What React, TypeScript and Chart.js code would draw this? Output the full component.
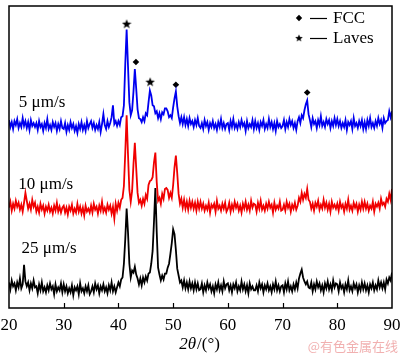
import React, { useEffect, useRef } from "react";
import { Chart, registerables } from "chart.js";
Chart.register(...registerables);

// 2θ sampling: start angle and step (degrees)
const startAngle = 20;
const stepAngle = 0.25;

// Intensity values (arbitrary units, offset per pattern), one per 0.25° from 20° to 90°
const blue5 = [
  191,184,189,182,190,186,192,183,188,184,193,185,190,183,189,181,191,185,188,184,
  188,181,190,184,187,180,188,183,192,182,186,181,189,184,188,180,187,182,190,183,
  182,188,179,186,181,189,183,187,180,185,178,187,182,189,181,186,180,190,183,187,
  190,183,188,181,186,182,189,179,187,197,186,182,190,184,188,194,206,187,190,185,
  190,186,194,195,206,248,283,246,209,196,201,220,243,223,202,193,192,189,194,190,
  198,196,209,221,216,206,205,198,200,193,198,192,199,197,203,203,200,194,196,193,
  204,213,220,205,195,188,194,187,194,186,192,185,193,187,190,184,191,186,193,185,
  183,188,182,191,185,189,181,188,184,190,183,187,181,189,184,192,183,188,182,187,
  188,181,190,184,192,183,187,182,189,184,191,185,188,180,190,183,187,184,191,182,
  190,183,188,181,189,185,191,182,187,183,192,184,189,182,188,180,190,184,187,183,
  185,191,182,189,184,192,186,190,183,188,181,190,194,188,196,193,201,207,211,197,
  191,184,193,187,190,183,191,186,195,185,189,184,192,187,191,183,190,185,193,186,
  192,185,190,183,188,184,191,181,189,186,190,182,193,185,188,183,190,185,191,182,
  189,182,191,185,193,184,188,183,190,185,193,187,191,183,193,188,190,191,200,194,
  200,
];

const red10 = [
  102,108,99,106,101,109,103,107,100,105,98,107,117,109,101,106,100,110,103,107,
  98,103,97,106,100,104,96,103,99,105,98,102,96,104,99,107,98,103,97,102,
  104,97,102,95,103,99,105,96,101,97,106,98,103,96,102,94,104,98,101,97,
  104,97,106,100,103,96,104,99,108,98,102,97,105,100,104,96,103,91,106,99,
  107,102,110,112,124,158,196,156,120,108,119,146,168,142,117,107,110,104,111,106,
  115,111,125,129,130,133,148,158,128,109,112,106,116,111,121,122,120,112,117,112,
  125,143,155,137,116,106,111,102,110,101,108,100,109,102,108,101,107,99,108,101,
  108,101,106,99,104,100,107,97,105,102,106,98,109,101,104,99,106,101,107,98,
  101,107,98,105,100,108,102,106,99,104,97,106,101,108,100,105,99,109,102,106,
  105,98,107,101,109,100,104,99,106,101,108,102,105,97,107,100,104,101,108,99,
  100,105,99,108,102,106,98,105,101,107,100,104,112,108,117,110,116,112,121,110,
  108,101,106,99,107,103,109,100,105,101,110,102,107,100,106,98,108,102,105,101,
  106,99,108,102,105,98,106,101,110,100,104,99,107,102,106,98,105,100,108,101,
  108,101,106,99,104,101,108,98,106,103,107,101,111,105,107,103,111,108,116,110,
  121,
];

const black25 = [
  26,19,28,22,25,18,26,21,30,20,24,44,27,22,26,18,25,20,28,21,
  22,15,24,18,26,17,21,16,23,18,25,19,22,14,24,17,21,18,25,16,
  24,17,22,15,20,16,23,13,21,18,22,14,25,17,20,15,22,17,23,14,
  17,22,16,25,19,23,15,22,18,24,17,21,15,23,18,26,17,22,16,21,
  26,22,29,31,45,70,101,77,45,31,38,36,42,34,30,24,30,23,31,26,
  32,28,35,36,45,58,88,122,77,41,34,28,33,29,35,35,41,45,55,66,
  80,75,59,40,33,26,28,21,28,20,26,19,27,20,25,18,26,19,25,18,
  19,25,16,23,18,26,20,24,17,22,15,24,19,26,18,23,17,27,20,24,
  25,18,23,16,24,20,26,17,22,18,27,19,24,17,23,15,25,19,22,18,
  18,23,17,26,20,24,16,23,19,25,18,22,16,24,19,27,18,23,17,22,
  23,16,25,19,27,18,22,17,24,19,26,20,30,35,39,31,27,24,27,21,
  20,26,17,24,19,27,21,25,18,23,16,25,20,27,19,24,18,28,21,25,
  24,17,26,20,23,16,24,19,28,18,22,17,25,20,24,16,23,18,26,19,
  25,18,23,16,24,20,26,18,23,19,28,21,26,20,26,19,29,25,31,28,
  36,
];

// Phase markers
const fccX = [43.2, 50.5, 74.5];
const fccY = [250, 227, 219];
const lavesX = [41.5, 45.8];
const lavesY = [289, 230];

const tickValues = [20, 30, 40, 50, 60, 70, 80, 90];
const seriesNames = ["5 μm/s", "10 μm/s", "25 μm/s"];
const seriesLabelPos = [
  { x: 21.8, y: 209 },
  { x: 21.7, y: 126 },
  { x: 22.3, y: 60 },
];
const legendNames = ["FCC", "Laves"];
const watermark = "@有色金属在线";

const SERIF = "'Liberation Serif', 'Times New Roman', serif";

function toPoints(vals: number[]) {
  return vals.map((v, i) => ({ x: startAngle + i * stepAngle, y: v }));
}

function makeStar(size: number) {
  const c = document.createElement("canvas");
  c.width = size;
  c.height = size;
  const g = c.getContext("2d")!;
  const cx = size / 2, cy = size / 2 + 0.5;
  const R = size / 2, r = R * 0.42;
  g.beginPath();
  for (let i = 0; i < 10; i++) {
    const a = -Math.PI / 2 + (i * Math.PI) / 5;
    const rr = i % 2 === 0 ? R : r;
    const px = cx + rr * Math.cos(a), py = cy + rr * Math.sin(a);
    if (i === 0) g.moveTo(px, py); else g.lineTo(px, py);
  }
  g.closePath();
  g.fillStyle = "#000";
  g.fill();
  return c;
}

export default function App() {
  const ref = useRef<HTMLCanvasElement>(null);
  useEffect(() => {
    document.body.style.margin = "0";
    const star = makeStar(10);
    const decor = {
      id: "decor",
      afterDraw(chart: any) {
        const { ctx, chartArea, scales } = chart;
        const { left, right, top, bottom } = chartArea;
        const x = scales.x, y = scales.y;
        ctx.save();
        ctx.strokeStyle = "#000";
        ctx.lineWidth = 1.5;
        ctx.strokeRect(left, top, right - left, bottom - top);
        ctx.lineWidth = 1.2;
        tickValues.forEach((v) => {
          if (v === 20 || v === 90) return;
          const px = Math.round(x.getPixelForValue(v)) + 0.5;
          ctx.beginPath();
          ctx.moveTo(px, bottom);
          ctx.lineTo(px, bottom - 5);
          ctx.stroke();
        });
        // series labels
        ctx.fillStyle = "#000";
        ctx.font = `17px ${SERIF}`;
        ctx.textBaseline = "middle";
        ctx.textAlign = "left";
        seriesNames.forEach((s, i) => {
          const p = seriesLabelPos[i];
          ctx.fillText(s, x.getPixelForValue(p.x), y.getPixelForValue(p.y));
        });
        // legend
        const lx = 299;
        const rows = [18, 38];
        rows.forEach((ry, i) => {
          if (i === 0) {
            ctx.beginPath();
            ctx.moveTo(lx, ry - 3.2);
            ctx.lineTo(lx + 3.2, ry);
            ctx.lineTo(lx, ry + 3.2);
            ctx.lineTo(lx - 3.2, ry);
            ctx.closePath();
            ctx.fill();
          } else {
            ctx.drawImage(star, lx - 4, ry - 4, 8, 8);
          }
          ctx.lineWidth = 1.2;
          ctx.beginPath();
          ctx.moveTo(310, ry + 0.5);
          ctx.lineTo(327, ry + 0.5);
          ctx.stroke();
          ctx.fillText(legendNames[i], 333, ry + 1);
        });
        // axis title
        const ty = 345;
        const p1 = "2θ";
        ctx.font = `italic 17px ${SERIF}`;
        const w1 = ctx.measureText(p1).width;
        ctx.font = `17px ${SERIF}`;
        const p2 = "/(°)";
        const w2 = ctx.measureText(p2).width;
        const sx = 199 - (w1 + w2) / 2;
        ctx.font = `italic 17px ${SERIF}`;
        ctx.fillText(p1, sx, ty);
        ctx.font = `17px ${SERIF}`;
        ctx.fillText(p2, sx + w1 + 1, ty);
        // watermark
        ctx.fillStyle = "rgba(236,150,150,0.75)";
        ctx.font = "13px 'Noto Sans CJK SC', sans-serif";
        ctx.textAlign = "right";
        ctx.fillText(watermark, 398, 346);
        ctx.restore();
      },
    };
    const chart = new Chart(ref.current!, {
      type: "line",
      data: {
        datasets: [
          { data: toPoints(blue5), borderColor: "#0000f0", borderWidth: 1.8, pointRadius: 0, tension: 0 },
          { data: toPoints(red10), borderColor: "#f00000", borderWidth: 1.8, pointRadius: 0, tension: 0 },
          { data: toPoints(black25), borderColor: "#000000", borderWidth: 1.8, pointRadius: 0, tension: 0 },
          {
            type: "scatter" as any,
            data: fccX.map((v, i) => ({ x: v, y: fccY[i] })),
            pointStyle: "rectRot",
            pointRadius: 3.3,
            backgroundColor: "#000",
            borderColor: "#000",
            borderWidth: 0,
            showLine: false,
          } as any,
          {
            type: "scatter" as any,
            data: lavesX.map((v, i) => ({ x: v, y: lavesY[i] })),
            pointStyle: star,
            pointRadius: 5,
            showLine: false,
          } as any,
        ],
      },
      options: {
        responsive: false,
        animation: false,
        devicePixelRatio: 1,
        layout: { padding: { left: 9, right: 8, top: 1, bottom: 0 } },
        plugins: { legend: { display: false }, tooltip: { enabled: false } },
        scales: {
          x: {
            type: "linear",
            min: 20,
            max: 90,
            grid: { display: false, drawTicks: false },
            border: { display: false },
            ticks: {
              stepSize: 10,
              padding: 7,
              color: "#000",
              font: { family: SERIF, size: 17 },
              maxRotation: 0,
            },
            afterFit: (s: any) => {
              s.height = 47;
              s.paddingLeft = 0;
              s.paddingRight = 0;
              s.paddingTop = 0;
              s.paddingBottom = 0;
            },
          },
          y: { display: false, min: 0, max: 307 },
        },
      },
      plugins: [decor],
    });
    return () => chart.destroy();
  }, []);
  return (
    <div style={{ width: 400, height: 355 }}>
      <canvas ref={ref} width={400} height={355} style={{ display: "block" }} />
    </div>
  );
}
